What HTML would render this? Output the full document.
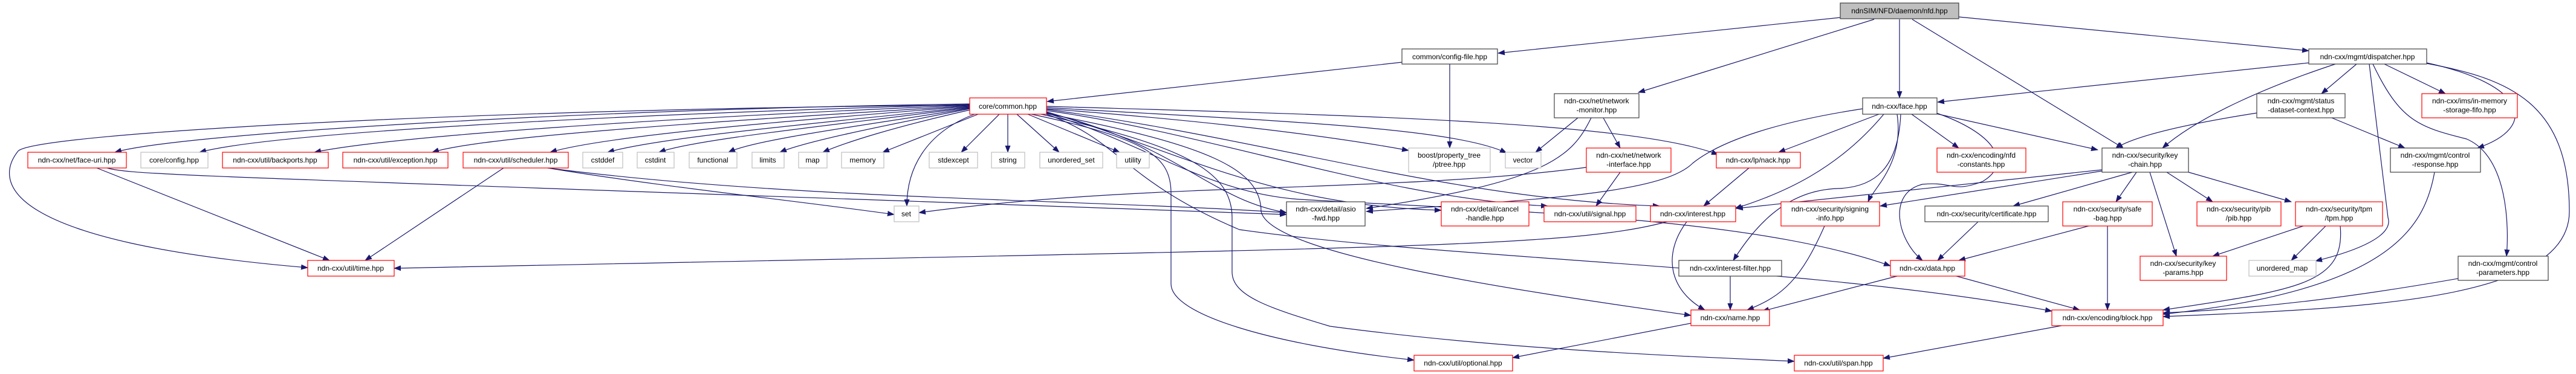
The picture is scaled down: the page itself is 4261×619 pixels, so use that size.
<!DOCTYPE html>
<html><head><meta charset="utf-8"><style>
html,body{margin:0;padding:0;background:#fff;}
svg{display:block;}
text{font-family:"Liberation Sans",Arial,sans-serif;font-size:12px;fill:#000;text-anchor:middle;}
.e{fill:none;stroke:#191970;stroke-width:1.2;marker-end:url(#a);}
.r{fill:#fff;stroke:#ff0000;stroke-width:1.2;}
.b{fill:#fff;stroke:#404040;stroke-width:1.2;}
.g{fill:#fff;stroke:#bfbfbf;stroke-width:1.2;}
</style></head><body>
<svg width="4261" height="619" viewBox="0 0 4261 619" xmlns="http://www.w3.org/2000/svg">
<defs><marker id="a" markerUnits="userSpaceOnUse" markerWidth="12" markerHeight="9" refX="11" refY="4.5" orient="auto"><path d="M0,0 L12,4.5 L0,9 z" fill="#191970"/></marker></defs>

<!-- edges -->
<path class="e" d="M3044 29 L2478 88"/>
<path class="e" d="M3100 32 L2710 153"/>
<path class="e" d="M3142 32 L3142 162"/>
<path class="e" d="M3163 32 L3512 245"/>
<path class="e" d="M3240 28 L3819 84"/>
<path class="e" d="M2319 103 L1732 168"/>
<path class="e" d="M2398 106 L2398 245"/>
<path class="e" d="M3819 104 L3205 169"/>
<path class="e" d="M3863 106 C3760 140 3640 190 3577 245"/>
<path class="e" d="M3898 106 L3840 155"/>
<path class="e" d="M3944 106 L4045 155"/>
<path class="e" d="M4014 104 C4180 140 4200 210 4098 245"/>
<path class="e" d="M3925 106 C3970 200 4000 210 4080 230 C4150 260 4150 380 4146 424"/>
<path class="e" d="M3919 106 L3950 360 C3960 390 3900 415 3830 432"/>
<path class="e" d="M4014 105 C4150 130 4250 170 4250 350 C4250 500 3900 510 3578 524"/>
<path class="e" d="M3733 187 C3650 200 3540 220 3500 245"/>
<path class="e" d="M3857 195 L3978 245"/>
<path class="e" d="M4027 285 C4010 380 3950 480 3578 520"/>
<path class="e" d="M4066 461 C3900 490 3750 510 3578 518"/>
<path class="e" d="M3534 285 L3500 334"/>
<path class="e" d="M3556 285 L3600 424"/>
<path class="e" d="M3584 285 L3660 334"/>
<path class="e" d="M3620 285 L3790 334"/>
<path class="e" d="M3527 285 L3330 341"/>
<path class="e" d="M3477 283 L3110 341"/>
<path class="e" d="M3477 281 L2872 345"/>
<path class="e" d="M3810 374 L3660 424"/>
<path class="e" d="M3847 374 L3790 431"/>
<path class="e" d="M3871 374 C3880 470 3800 480 3578 513"/>
<path class="e" d="M3455 374 L3240 431"/>
<path class="e" d="M3486 374 L3486 513"/>
<path class="e" d="M3272 367 L3205 431"/>
<path class="e" d="M3138 457 L2915 515"/>
<path class="e" d="M3236 457 L3440 513"/>
<path class="e" d="M3108 189 L2942 252"/>
<path class="e" d="M3162 189 L3240 245"/>
<path class="e" d="M3202 188 L3470 248"/>
<path class="e" d="M3116 189 C3040 280 2950 320 2870 345"/>
<path class="e" d="M3138 189 C3150 270 3100 310 3090 334"/>
<path class="e" d="M3144 189 C3140 280 3100 310 3040 312 C2950 315 2900 380 2867 431"/>
<path class="e" d="M3200 186 C3300 220 3330 270 3280 300 C3230 320 3230 300 3180 305 C3120 320 3140 400 3180 431"/>
<path class="e" d="M3081 180 C2950 200 2850 230 2800 270 C2750 320 2550 330 2260 350"/>
<path class="e" d="M2893 278 L2818 341"/>
<path class="e" d="M2610 195 L2540 252"/>
<path class="e" d="M2652 195 L2680 245"/>
<path class="e" d="M2632 195 C2600 260 2560 300 2260 345"/>
<path class="e" d="M2680 285 L2640 341"/>
<path class="e" d="M2624 277 C2300 320 1900 300 1520 352"/>
<path class="e" d="M2790 367 C2750 420 2760 480 2820 513"/>
<path class="e" d="M2757 367 C2600 410 2300 410 652 444"/>
<path class="e" d="M2862 457 L2862 513"/>
<path class="e" d="M3018 374 C2980 460 2950 490 2890 513"/>
<path class="e" d="M2797 535 L2502 592"/>
<path class="e" d="M3410 539 L3115 593"/>
<path class="e" d="M833 278 L604 431"/>
<path class="e" d="M160 278 L545 431"/>
<path class="e" d="M177 278 C220 290 300 290 2128 355"/>
<path class="e" d="M906 278 C1100 310 1300 330 1479 355"/>
<path class="e" d="M906 278 C1300 330 1800 330 2128 352"/>
<!-- common edges -->
<path class="e" d="M1604 172 C1000 180 300 220 190 252"/>
<path class="e" d="M1604 173 C1000 190 450 220 330 252"/>
<path class="e" d="M1604 174 C1100 195 650 225 520 252"/>
<path class="e" d="M1604 175 C1200 200 800 225 715 252"/>
<path class="e" d="M1604 176 C1300 200 1000 225 910 252"/>
<path class="e" d="M1604 177 C1400 200 1100 225 1005 252"/>
<path class="e" d="M1604 178 C1400 205 1150 230 1090 252"/>
<path class="e" d="M1604 179 C1450 205 1250 230 1205 252"/>
<path class="e" d="M1604 180 C1450 210 1330 235 1290 252"/>
<path class="e" d="M1604 182 C1480 210 1400 235 1361 252"/>
<path class="e" d="M1618 189 L1460 252"/>
<path class="e" d="M1653 189 L1590 252"/>
<path class="e" d="M1667 189 L1667 252"/>
<path class="e" d="M1682 189 L1752 252"/>
<path class="e" d="M1700 189 L1852 252"/>
<path class="e" d="M1612 189 C1530 220 1500 280 1500 341"/>
<path class="e" d="M1731 180 C2000 200 2200 225 2330 249"/>
<path class="e" d="M1731 178 C2100 200 2400 210 2492 253"/>
<path class="e" d="M1731 186 C1950 240 2000 330 2128 352"/>
<path class="e" d="M1731 185 C1950 250 2100 340 2384 348"/>
<path class="e" d="M1731 183 C2000 220 2300 330 2560 341"/>
<path class="e" d="M1731 181 C2100 230 2400 330 2745 341"/>
<path class="e" d="M1731 176 C2200 190 2700 200 2842 256"/>
<path class="e" d="M1604 174 C800 180 60 220 30 250 C-10 300 0 400 509 443"/>
<path class="e" d="M1706 189 C1900 230 1937 260 1937 320 L1937 470 C1937 520 2100 570 2339 596"/>
<path class="e" d="M1722 189 C1950 240 2038 280 2038 360 L2038 450 C2038 490 2100 510 2200 540 C2500 580 2800 590 2968 598"/>
<path class="e" d="M1731 188 C2000 240 2086 280 2086 350 C2100 420 2500 480 2797 522"/>
<path class="e" d="M1731 189 C1850 230 1860 300 2050 380 C2400 430 3000 440 3394 515"/>
<path class="e" d="M1731 187 C1900 240 2000 320 2150 330 C2500 350 2900 360 3127 440"/>

<!-- nodes -->
<rect x="3044" y="5" width="196" height="26" fill="#bfbfbf" stroke="#404040" stroke-width="1.2"/><text x="3142" y="22">ndnSIM/NFD/daemon/nfd.hpp</text>
<rect class="b" x="2319" y="81" width="158" height="25"/><text x="2398" y="98">common/config-file.hpp</text>
<rect class="b" x="3819" y="81" width="195" height="25"/><text x="3916" y="98">ndn-cxx/mgmt/dispatcher.hpp</text>
<rect class="r" x="1604" y="162" width="127" height="27"/><text x="1667" y="180">core/common.hpp</text>
<rect class="b" x="3081" y="162" width="123" height="27"/><text x="3142" y="180">ndn-cxx/face.hpp</text>
<rect class="b" x="2571" y="155" width="140" height="40"/><text x="2641" y="171">ndn-cxx/net/network</text><text x="2641" y="186">-monitor.hpp</text>
<rect class="b" x="3733" y="155" width="146" height="40"/><text x="3806" y="171">ndn-cxx/mgmt/status</text><text x="3806" y="186">-dataset-context.hpp</text>
<rect class="r" x="4006" y="155" width="158" height="40"/><text x="4085" y="171">ndn-cxx/ims/in-memory</text><text x="4085" y="186">-storage-fifo.hpp</text>
<rect class="r" x="46" y="252" width="163" height="26"/><text x="127" y="269">ndn-cxx/net/face-uri.hpp</text>
<rect class="g" x="233" y="252" width="111" height="26"/><text x="288" y="269">core/config.hpp</text>
<rect class="r" x="368" y="252" width="175" height="26"/><text x="455" y="269">ndn-cxx/util/backports.hpp</text>
<rect class="r" x="567" y="252" width="174" height="26"/><text x="654" y="269">ndn-cxx/util/exception.hpp</text>
<rect class="r" x="766" y="252" width="174" height="26"/><text x="853" y="269">ndn-cxx/util/scheduler.hpp</text>
<rect class="g" x="964" y="252" width="66" height="26"/><text x="997" y="269">cstddef</text>
<rect class="g" x="1054" y="252" width="61" height="26"/><text x="1084" y="269">cstdint</text>
<rect class="g" x="1140" y="252" width="79" height="26"/><text x="1179" y="269">functional</text>
<rect class="g" x="1244" y="252" width="53" height="26"/><text x="1270" y="269">limits</text>
<rect class="g" x="1321" y="252" width="47" height="26"/><text x="1344" y="269">map</text>
<rect class="g" x="1392" y="252" width="70" height="26"/><text x="1427" y="269">memory</text>
<rect class="g" x="1537" y="252" width="80" height="26"/><text x="1577" y="269">stdexcept</text>
<rect class="g" x="1640" y="252" width="55" height="26"/><text x="1667" y="269">string</text>
<rect class="g" x="1720" y="252" width="104" height="26"/><text x="1772" y="269">unordered_set</text>
<rect class="g" x="1847" y="252" width="54" height="26"/><text x="1874" y="269">utility</text>
<rect class="g" x="2330" y="245" width="135" height="40"/><text x="2397" y="261">boost/property_tree</text><text x="2397" y="276">/ptree.hpp</text>
<rect class="g" x="2490" y="252" width="59" height="26"/><text x="2519" y="269">vector</text>
<rect class="r" x="2624" y="245" width="140" height="40"/><text x="2694" y="261">ndn-cxx/net/network</text><text x="2694" y="276">-interface.hpp</text>
<rect class="r" x="2839" y="252" width="139" height="26"/><text x="2908" y="269">ndn-cxx/lp/nack.hpp</text>
<rect class="r" x="3204" y="245" width="147" height="40"/><text x="3277" y="261">ndn-cxx/encoding/nfd</text><text x="3277" y="276">-constants.hpp</text>
<rect class="b" x="3477" y="245" width="143" height="40"/><text x="3548" y="261">ndn-cxx/security/key</text><text x="3548" y="276">-chain.hpp</text>
<rect class="b" x="3954" y="245" width="149" height="40"/><text x="4028" y="261">ndn-cxx/mgmt/control</text><text x="4028" y="276">-response.hpp</text>
<rect class="g" x="1479" y="341" width="41" height="26"/><text x="1499" y="358">set</text>
<rect class="b" x="2128" y="334" width="130" height="40"/><text x="2193" y="350">ndn-cxx/detail/asio</text><text x="2193" y="365">-fwd.hpp</text>
<rect class="r" x="2384" y="334" width="145" height="40"/><text x="2456" y="350">ndn-cxx/detail/cancel</text><text x="2456" y="365">-handle.hpp</text>
<rect class="r" x="2554" y="341" width="152" height="26"/><text x="2630" y="358">ndn-cxx/util/signal.hpp</text>
<rect class="r" x="2730" y="341" width="141" height="26"/><text x="2800" y="358">ndn-cxx/interest.hpp</text>
<rect class="r" x="2946" y="334" width="163" height="40"/><text x="3027" y="350">ndn-cxx/security/signing</text><text x="3027" y="365">-info.hpp</text>
<rect class="b" x="3184" y="341" width="204" height="26"/><text x="3286" y="358">ndn-cxx/security/certificate.hpp</text>
<rect class="r" x="3412" y="334" width="148" height="40"/><text x="3486" y="350">ndn-cxx/security/safe</text><text x="3486" y="365">-bag.hpp</text>
<rect class="r" x="3634" y="334" width="139" height="40"/><text x="3703" y="350">ndn-cxx/security/pib</text><text x="3703" y="365">/pib.hpp</text>
<rect class="r" x="3797" y="334" width="144" height="40"/><text x="3869" y="350">ndn-cxx/security/tpm</text><text x="3869" y="365">/tpm.hpp</text>
<rect class="r" x="509" y="431" width="143" height="26"/><text x="580" y="448">ndn-cxx/util/time.hpp</text>
<rect class="b" x="2777" y="431" width="170" height="26"/><text x="2862" y="448">ndn-cxx/interest-filter.hpp</text>
<rect class="r" x="3127" y="431" width="123" height="26"/><text x="3188" y="448">ndn-cxx/data.hpp</text>
<rect class="r" x="3540" y="424" width="143" height="40"/><text x="3611" y="440">ndn-cxx/security/key</text><text x="3611" y="455">-params.hpp</text>
<rect class="g" x="3720" y="431" width="111" height="26"/><text x="3775" y="448">unordered_map</text>
<rect class="b" x="4066" y="424" width="149" height="40"/><text x="4140" y="440">ndn-cxx/mgmt/control</text><text x="4140" y="455">-parameters.hpp</text>
<rect class="r" x="2797" y="513" width="130" height="26"/><text x="2862" y="530">ndn-cxx/name.hpp</text>
<rect class="r" x="3394" y="513" width="184" height="26"/><text x="3486" y="530">ndn-cxx/encoding/block.hpp</text>
<rect class="r" x="2339" y="588" width="163" height="26"/><text x="2420" y="605">ndn-cxx/util/optional.hpp</text>
<rect class="r" x="2968" y="588" width="147" height="26"/><text x="3041" y="605">ndn-cxx/util/span.hpp</text>
</svg>
</body></html>
